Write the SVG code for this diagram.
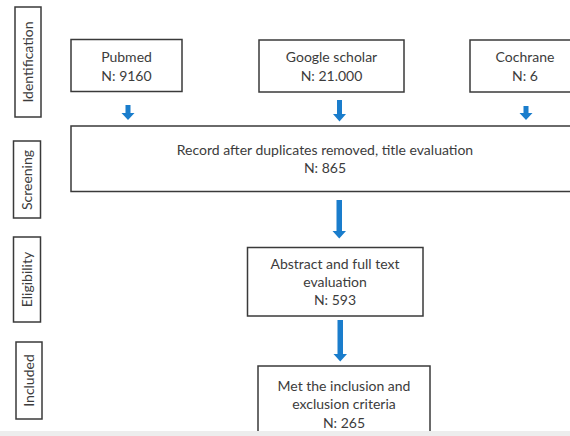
<svg xmlns="http://www.w3.org/2000/svg" width="570" height="436" viewBox="0 0 570 436">
<defs>
<style>
.box{fill:#fff;stroke:#3a3a3a;stroke-width:1.5}
.t{font-family:Lato,"Open Sans","Liberation Sans",sans-serif;font-size:14px;fill:#3c3c3c;text-anchor:middle}
.arr{fill:#1a7dcc}
</style>
</defs>
<rect x="0" y="0" width="570" height="436" fill="#fff"/>
<g id="stage-identification"><rect class="box" x="15" y="7" width="26" height="110"/><text class="t" transform="translate(33,62) rotate(-90)">Identification</text></g>
<g id="stage-screening"><rect class="box" x="13.5" y="141" width="27" height="77"/><text class="t" transform="translate(32,180) rotate(-90)">Screening</text></g>
<g id="stage-eligibility"><rect class="box" x="13.5" y="237" width="27" height="85"/><text class="t" transform="translate(32,279.5) rotate(-90)">Eligibility</text></g>
<g id="stage-included"><rect class="box" x="16" y="342" width="26" height="77"/><text class="t" transform="translate(34,380.5) rotate(-90)">Included</text></g>
<g id="pubmed"><rect class="box" x="71" y="39.5" width="111" height="52"/><text class="t" x="126.5" y="62">Pubmed</text><text class="t" x="126.5" y="81">N: 9160</text></g>
<g id="google"><rect class="box" x="259" y="40" width="145" height="52"/><text class="t" x="331.5" y="62">Google scholar</text><text class="t" x="331.5" y="81">N: 21.000</text></g>
<g id="cochrane"><rect class="box" x="470" y="40" width="110" height="52"/><text class="t" x="525" y="62">Cochrane</text><text class="t" x="525" y="81">N: 6</text></g>
<g id="screening"><rect class="box" x="71" y="126" width="510" height="65.5"/><text class="t" x="325" y="155">Record after duplicates removed, title evaluation</text><text class="t" x="325" y="173">N: 865</text></g>
<g id="eligibility"><rect class="box" x="247.5" y="247.5" width="175.5" height="68.5"/><text class="t" x="335" y="269">Abstract and full text</text><text class="t" x="335" y="287">evaluation</text><text class="t" x="335" y="305">N: 593</text></g>
<g id="included"><rect class="box" x="258" y="366" width="172" height="80"/><text class="t" x="344" y="391">Met the inclusion and</text><text class="t" x="344" y="409">exclusion criteria</text><text class="t" x="344" y="428">N: 265</text></g>
<g id="connectors">
<path class="arr" d="M125.5 105 h5 v8 h4 l-6.5 7 l-6.5 -7 h4 z"/>
<path class="arr" d="M337 100 h5 v14 h4 l-6.5 7.5 l-6.5 -7.5 h4 z"/>
<path class="arr" d="M523.5 106 h5 v7 h4 l-6.5 7 l-6.5 -7 h4 z"/>
<path class="arr" d="M336.5 200 h5.5 v31 h4 l-6.75 7.5 l-6.75 -7.5 h4 z"/>
<path class="arr" d="M337.5 320 h5.5 v34 h4 l-6.75 7.5 l-6.75 -7.5 h4 z"/>
</g>
<rect x="0" y="431" width="570" height="5" fill="#ededed"/>
</svg>
